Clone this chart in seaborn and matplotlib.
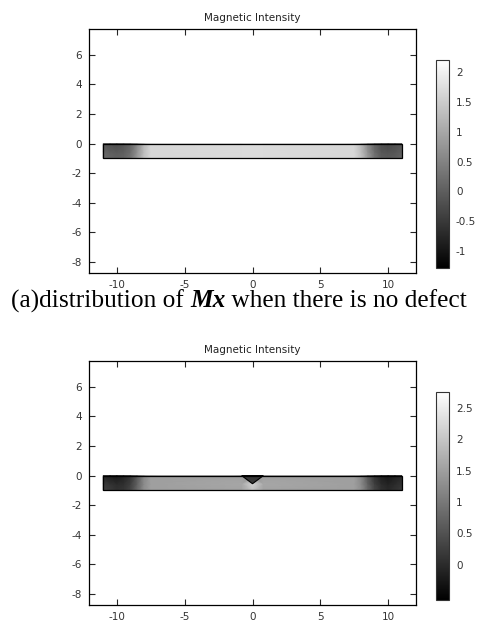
import numpy as np
import matplotlib
matplotlib.use('Agg')
import matplotlib.pyplot as plt
import seaborn as sns
from matplotlib.patches import Polygon, Rectangle

sns.set_style('ticks')
plt.rcParams['font.family'] = ['DejaVu Sans']
plt.rcParams['axes.unicode_minus'] = False

# geometry of the plate (mm) and of the V notch
bar_x = [-11, 11]
bar_y = [-1, 0]
notch_x = [-0.8, 0.0, 0.8]
notch_y = [0.0, -0.55, 0.0]

# sample nodes along / across the plate
x_nodes = [-11, -10.5, -10, -9.5, -9, -8.5, -8, -7.5, -0.8, 0, 0.8, 7.5, 8, 8.5, 9, 9.5, 10, 10.5, 11]
y_nodes = [-1, -0.55, 0]

# Mx read from the grey levels, (a) no defect
mx_a_low = [0.2, 0.1, 0.05, 0.1, 0.3, 0.8, 1.35, 1.65, 1.7, 1.7, 1.7, 1.65, 1.35, 0.8, 0.3, 0.0, -0.05, 0.0, 0.1]
mx_a_mid = [0.1, 0.0, -0.05, 0.0, 0.2, 0.7, 1.3, 1.65, 1.7, 1.7, 1.7, 1.65, 1.3, 0.7, 0.2, -0.1, -0.15, -0.1, 0.0]
mx_a_top = [-0.1, -0.2, -0.25, -0.1, 0.1, 0.6, 1.25, 1.65, 1.7, 1.7, 1.7, 1.65, 1.25, 0.6, 0.1, -0.2, -0.3, -0.2, -0.1]
# (b) with V defect
mx_b_low = [0.3, 0.2, 0.1, 0.15, 0.35, 0.8, 1.3, 1.5, 1.55, 1.9, 1.55, 1.5, 1.3, 0.8, 0.35, 0.1, 0.0, 0.1, 0.2]
mx_b_mid = [0.2, 0.1, 0.0, 0.05, 0.25, 0.7, 1.25, 1.5, 1.6, 2.2, 1.6, 1.5, 1.25, 0.7, 0.25, 0.0, -0.1, 0.0, 0.1]
mx_b_top = [-0.1, -0.2, -0.25, -0.1, 0.1, 0.6, 1.2, 1.5, 1.5, 0.5, 1.5, 1.5, 1.2, 0.6, 0.1, -0.15, -0.25, -0.15, -0.05]
mx_b_notch = 0.15

cbar_a_lim = [-1.28, 2.2]
cbar_a_ticks = [-1, -0.5, 0, 0.5, 1, 1.5, 2]
cbar_b_lim = [-0.56, 2.75]
cbar_b_ticks = [0, 0.5, 1, 1.5, 2, 2.5]

x_ticks = [-10, -5, 0, 5, 10]
y_ticks = [-8, -6, -4, -2, 0, 2, 4, 6]

fig = plt.figure(figsize=(4.78, 6.28), dpi=100)
W, H = 478, 628

def panel(top_px, rows, lim, ticks, notch_val=None):
    ax = fig.add_axes([89 / W, 1 - (top_px + 244) / H, 327 / W, 244 / H])
    X, Y = np.meshgrid(x_nodes, y_nodes)
    Z = np.array(rows)
    mesh = ax.pcolormesh(X, Y, Z, shading='gouraud', cmap='gray', vmin=lim[0], vmax=lim[1])
    if notch_val is not None:
        ax.add_patch(Polygon(list(zip(notch_x, notch_y)), closed=True,
                             facecolor=plt.cm.gray((notch_val - lim[0]) / (lim[1] - lim[0])),
                             edgecolor='black', lw=0.8, zorder=3))
    ax.add_patch(Rectangle((bar_x[0], bar_y[0]), bar_x[1] - bar_x[0], bar_y[1] - bar_y[0],
                           fill=False, edgecolor='black', lw=0.9, zorder=4))
    ax.set_xlim(-12.05, 12.05)
    ax.set_ylim(-8.75, 7.75)
    ax.set_xticks(x_ticks)
    ax.set_yticks(y_ticks)
    ax.tick_params(direction='in', top=True, right=True, length=4, width=0.8,
                   labelsize=7.5, labelcolor='#333333', pad=5)
    for s in ax.spines.values():
        s.set_linewidth(0.9)
        s.set_color('black')
    ax.set_title('Magnetic Intensity', fontsize=7.5, color='#222222', pad=6)
    cax = fig.add_axes([436 / W, 1 - (top_px + 239) / H, 13 / W, 208 / H])
    cb = fig.colorbar(mesh, cax=cax, ticks=ticks)
    cb.ax.set_yticklabels([f'{t:g}' for t in ticks])
    cb.ax.tick_params(direction='in', length=2, width=0.6, labelsize=7.5,
                      labelcolor='#333333', left=True, right=True, pad=5)
    cb.outline.set_linewidth(0.8)
    cb.outline.set_edgecolor('#333333')
    return ax

panel(29, [mx_a_low, mx_a_mid, mx_a_top], cbar_a_lim, cbar_a_ticks)
panel(361, [mx_b_low, mx_b_mid, mx_b_top], cbar_b_lim, cbar_b_ticks, mx_b_notch)

# caption with bold italic Mx
serif = 'Liberation Serif'
parts = [('(a)distribution of ', 'normal', 'normal'),
         ('Mx', 'italic', 'bold'),
         (' when there is no defect', 'normal', 'normal')]
fig.canvas.draw()
r = fig.canvas.get_renderer()
texts = []
for s, st, wt in parts:
    t = fig.text(0, 1 - 301 / H, s, fontsize=18.3, family=serif, style=st,
                 weight=wt, va='center', ha='left', color='black')
    texts.append(t)
widths = [t.get_window_extent(r).width for t in texts]
x0 = (W - sum(widths)) / 2
for t, w in zip(texts, widths):
    t.set_x(x0 / W)
    x0 += w

fig.savefig('out.png', dpi=100)
